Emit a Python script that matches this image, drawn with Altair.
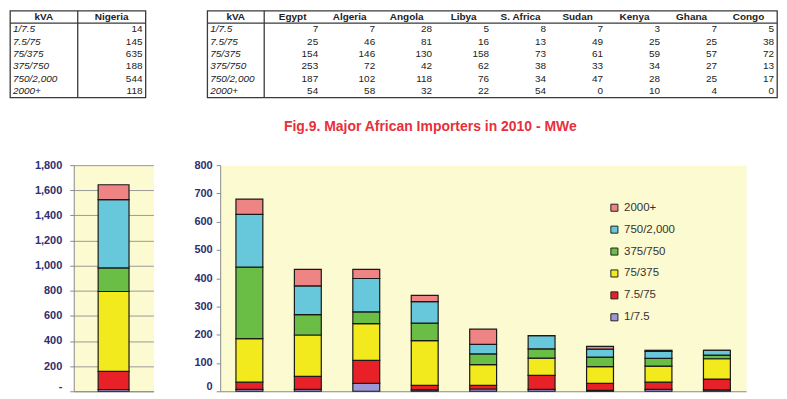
import altair as alt
import pandas as pd

# ---------------- data ----------------
kva = ["1/7.5", "7.5/75", "75/375", "375/750", "750/2,000", "2000+"]
countries = ["Egypt", "Algeria", "Angola", "Libya", "S. Africa", "Sudan", "Kenya", "Ghana", "Congo"]
nigeria = [14, 145, 635, 188, 544, 118]
egypt = [7, 25, 154, 253, 187, 54]
algeria = [7, 46, 146, 72, 102, 58]
angola = [28, 81, 130, 42, 118, 32]
libya = [5, 16, 158, 62, 76, 22]
s_africa = [8, 13, 73, 38, 34, 54]
sudan = [7, 49, 61, 33, 47, 0]
kenya = [3, 25, 59, 34, 28, 10]
ghana = [7, 25, 57, 27, 25, 4]
congo = [5, 38, 72, 13, 17, 0]
left_ticks = [0, 200, 400, 600, 800, 1000, 1200, 1400, 1600, 1800]
right_ticks = [0, 100, 200, 300, 400, 500, 600, 700, 800]
colors = ["#9D98D8", "#E82128", "#F2EA1C", "#6ABD45", "#67C8DC", "#EE8484"]
title_text = "Fig.9. Major African Importers in 2010 - MWe"

series = [egypt, algeria, angola, libya, s_africa, sudan, kenya, ghana, congo]

FONT = "Liberation Sans"
LINE = "#3a3a3a"
BG = "#FCFAD0"
LABEL = "#2E2E70"
PLOT_H = 227

# ---------------- tables ----------------
def make_table(header, labels, columns, width, height):
    recs = []
    for j, h in enumerate(header):
        recs.append(dict(row=0, col=j, text=h, kind="head"))
    for i, lab in enumerate(labels):
        recs.append(dict(row=i + 1, col=0, text=lab, kind="label"))
    for j, vals in enumerate(columns):
        for i, v in enumerate(vals):
            recs.append(dict(row=i + 1, col=j + 1, text=str(v), kind="num"))
    df = pd.DataFrame(recs)
    ncol = len(header)
    xs = alt.Scale(domain=list(range(ncol)), paddingInner=0, paddingOuter=0)
    ys = alt.Scale(domain=list(range(len(labels) + 1)), paddingInner=0, paddingOuter=0)
    base = alt.Chart(df)
    head = base.transform_filter(alt.datum.kind == "head").mark_text(
        font=FONT, fontSize=10, fontWeight="bold", color="#222", align="center", baseline="middle"
    ).encode(x=alt.X("col:O", scale=xs, axis=None, bandPosition=0.5),
             y=alt.Y("row:O", scale=ys, axis=None), text="text:N")
    lab = base.transform_filter(alt.datum.kind == "label").mark_text(
        font=FONT, fontSize=10, fontStyle="italic", color="#222", align="left", baseline="middle", dx=3
    ).encode(x=alt.X("col:O", scale=xs, axis=None, bandPosition=0),
             y=alt.Y("row:O", scale=ys, axis=None), text="text:N")
    num = base.transform_filter(alt.datum.kind == "num").mark_text(
        font=FONT, fontSize=10, color="#222", align="right", baseline="middle", dx=-3
    ).encode(x=alt.X("col:O", scale=xs, axis=None, bandPosition=1),
             y=alt.Y("row:O", scale=ys, axis=None), text="text:N")
    hline = alt.Chart(pd.DataFrame({"row": [1]})).mark_rule(color=LINE, strokeWidth=1.3).encode(
        y=alt.Y("row:O", scale=ys, axis=None, bandPosition=0))
    vline = alt.Chart(pd.DataFrame({"col": [1]})).mark_rule(color=LINE, strokeWidth=1.3).encode(
        x=alt.X("col:O", scale=xs, axis=None, bandPosition=0))
    return alt.layer(hline, vline, head, lab, num).properties(
        width=width, height=height,
        view=alt.ViewBackground(fill="white", stroke=LINE, strokeWidth=1.3))

t1 = make_table(["kVA", "Nigeria"], kva, [nigeria], 136, 87)
t2 = make_table(["kVA"] + countries, kva, series, 572, 87)

# ---------------- bars ----------------
def long_df(names, data):
    recs = []
    for c, vals in zip(names, data):
        for i, (k, v) in enumerate(zip(kva, vals)):
            recs.append(dict(country=c, kva=k, idx=i, value=v))
    return pd.DataFrame(recs)

df_left = long_df(["Nigeria"], [nigeria])
df_right = long_df(countries, series)

color_scale = alt.Scale(domain=kva[::-1], range=colors[::-1])

def yaxis(values, grid, pad, label_expr=None):
    kw = dict(values=values, title=None, grid=grid, gridColor="#9a9a9a", gridWidth=1,
              labelFont=FONT, labelFontSize=11, labelFontWeight="bold", labelColor=LABEL,
              domainColor="#8a8a8a", tickColor="#8a8a8a", tickSize=4, labelPadding=pad,
              labelBaseline=alt.condition("datum.value == 0", alt.value("bottom"), alt.value("middle")))
    if label_expr:
        kw["labelExpr"] = label_expr
    return alt.Axis(**kw)

xaxis = alt.Axis(title=None, labels=False, ticks=False, domainColor="#8a8a8a")

left = alt.Chart(df_left).mark_bar(size=31, stroke="#1a1a1a", strokeWidth=1.2).encode(
    x=alt.X("country:N", scale=alt.Scale(paddingInner=0, paddingOuter=0), axis=xaxis),
    y=alt.Y("value:Q", stack="zero", scale=alt.Scale(domain=[0, 1800], nice=False),
            axis=yaxis(left_ticks, True, 8, "datum.value == 0 ? '-' : format(datum.value, ',')")),
    color=alt.Color("kva:N", scale=color_scale, legend=None),
    order=alt.Order("idx:Q", sort="ascending"),
).properties(width=80, height=PLOT_H, view=alt.ViewBackground(fill=BG, stroke="transparent"))

right = alt.Chart(df_right).mark_bar(size=27, stroke="#1a1a1a", strokeWidth=1.2).encode(
    x=alt.X("country:N", sort=countries, scale=alt.Scale(paddingInner=0, paddingOuter=0), axis=xaxis),
    y=alt.Y("value:Q", stack="zero", scale=alt.Scale(domain=[0, 800], nice=False),
            axis=yaxis(right_ticks, False, 4)),
    color=alt.Color("kva:N", scale=color_scale,
                    legend=alt.Legend(title=None, orient="none", legendX=390, legendY=37,
                                      symbolType="square", symbolSize=50, symbolStrokeColor="#222",
                                      symbolStrokeWidth=1, labelFont=FONT, labelFontSize=11.5,
                                      labelColor="#333", rowPadding=9, labelOffset=4)),
    order=alt.Order("idx:Q", sort="ascending"),
).properties(
    width=528, height=PLOT_H,
    view=alt.ViewBackground(fill=BG, stroke="transparent"),
    title=alt.TitleParams(text=title_text, anchor="start", frame="group", dx=64, offset=25,
                          font=FONT, fontSize=14, fontWeight="bold", color="#E8303A"),
)

spacer = alt.Chart(pd.DataFrame({"a": [0]})).mark_rect(opacity=0).encode(
    x=alt.value(0), x2=alt.value(1), y=alt.value(0), y2=alt.value(1)
).properties(width=1, height=PLOT_H, view=alt.ViewBackground(stroke="transparent"))

row1 = alt.hconcat(t1, t2, spacing=62, bounds="flush")
inner = alt.hconcat(left, right, spacing=67, bounds="flush").resolve_scale(color="independent")
row2 = alt.hconcat(spacer, inner, spacing=63, bounds="flush").resolve_scale(color="independent")
chart = alt.vconcat(row1, row2, spacing=20).resolve_scale(
    color="independent").properties(padding=0)

chart.save("out.html", embed_options={"renderer": "svg", "actions": False})
